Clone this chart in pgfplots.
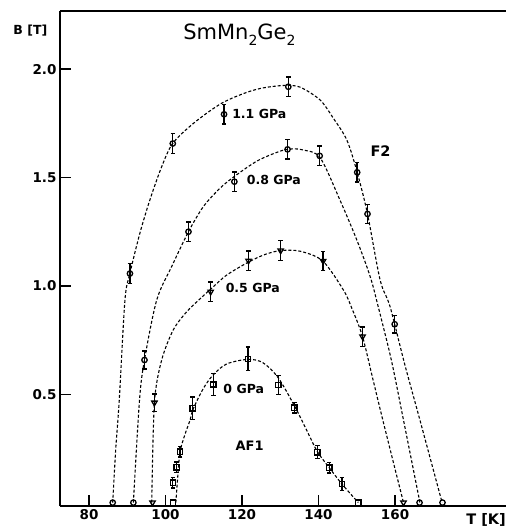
\documentclass[border=0pt]{standalone}
\usepackage{fontspec}
\setmainfont{DejaVu Sans}
\usepackage{pgfplots}
\usepackage{pgfplotstable}
\pgfplotsset{compat=1.18}

% markers with error bars: T, B, error
\pgfplotstableread{
x y e
101.9 0.092 0.025
102.9 0.163 0.025
103.8 0.235 0.025
107.1 0.435 0.052
112.5 0.545 0.052
121.6 0.663 0.055
129.5 0.543 0.045
133.7 0.438 0.025
139.7 0.232 0.030
142.8 0.161 0.025
146.1 0.086 0.030
}\mZero
\pgfplotstableread{
x y e
97.1 0.461 0.040
111.8 0.973 0.045
121.7 1.116 0.045
130.1 1.163 0.045
141.2 1.115 0.045
151.5 0.766 0.045
}\mFive
\pgfplotstableread{
x y e
94.5 0.658 0.042
106.0 1.250 0.045
118.0 1.481 0.045
131.9 1.630 0.045
140.3 1.600 0.045
}\mEight
\pgfplotstableread{
x y e
90.7 1.057 0.045
101.9 1.657 0.045
115.3 1.792 0.045
132.1 1.919 0.045
150.1 1.524 0.045
152.8 1.332 0.045
159.9 0.823 0.040
}\mEleven

\begin{document}
\begin{tikzpicture}
\begin{axis}[
  scale only axis, width=446pt, height=495pt,
  xmin=72.42, xmax=189.0, ymin=-0.0157, ymax=2.2686,
  axis x line*=box, axis y line*=left,
  axis line style={-, line width=1.4pt},
  xtick={80,100,...,160}, ytick={0.5,1.0,1.5,2.0},
  tick pos=left,
  tick align=inside, major tick length=11pt,
  tick style={line width=1.4pt, black},
  minor tick num=0,
  /pgf/number format/assume math mode=true,
  yticklabel style={/pgf/number format/.cd, fixed, fixed zerofill, precision=1},
  xticklabel style={/pgf/number format/.cd, fixed, precision=0},
  ticklabel style={font=\fontsize{13.5}{15}\selectfont\bfseries},
  clip=false,
  cline/.style={black, line width=1.1pt, dash pattern=on 3pt off 2pt, smooth, tension=0.5, mark=none},
  emk/.style={black, only marks, line width=1.3pt, mark size=2.7pt,
    mark options={solid, fill=white, line width=1.3pt},
    error bars/y dir=both, error bars/y explicit,
    error bars/error bar style={line width=1.4pt, solid},
    error bars/error mark options={rotate=90, mark size=2.2pt, line width=1.3pt}},
  zmk/.style={black, only marks, mark size=2.7pt, mark options={solid, fill=white, line width=1.3pt}},
]
\coordinate (axsw) at (rel axis cs:0,0);
\coordinate (axne) at (rel axis cs:1,1);

% dashed curves
\addplot[cline] coordinates {
(86.2,0) (87.0,0.25) (87.9,0.47) (89.4,0.935) (90.7,1.058) (93.3,1.243) (95.9,1.396)
(99.0,1.55) (101.9,1.658) (107.3,1.750) (114.2,1.838) (120,1.885) (125,1.912) (131,1.925)
(135.2,1.917) (140.4,1.858) (143.9,1.773) (147.4,1.673) (150.1,1.524) (152.8,1.332)
(156.1,1.027) (158.7,0.904) (162.5,0.64) (166.5,0.381) (172.3,0)};
\addplot[cline] coordinates {
(91.6,0) (93.2,0.473) (94.5,0.658) (97.7,0.935) (101.6,1.089) (106.0,1.25) (109.9,1.366)
(114.2,1.450) (118.0,1.505) (124,1.577) (130,1.622) (133,1.632) (136,1.627) (140.4,1.592)
(145.6,1.396) (150,1.212) (153.5,1.043) (155.6,0.904) (159,0.66) (162.2,0.381) (166.5,0)};
\addplot[cline] coordinates {
(96.4,0) (97.1,0.461) (99.0,0.658) (102.0,0.796) (105.5,0.88) (109.0,0.940) (111.8,0.985)
(116,1.05) (121.7,1.11) (126,1.145) (130.1,1.163) (135.2,1.16) (141.1,1.115)
(146.5,0.981) (148.7,0.897) (151.5,0.766) (154.2,0.57) (156.8,0.381) (162.2,0)};
\addplot[cline] coordinates {
(102.7,0) (103.2,0.12) (103.8,0.235) (105.0,0.31) (106.4,0.38) (107.3,0.435) (110,0.53)
(112.5,0.59) (116,0.64) (121.6,0.661) (125.5,0.645) (129.5,0.575) (133.9,0.44)
(137,0.33) (139.7,0.235) (142.8,0.161) (146.1,0.086) (150.4,0)};

% markers with error bars
\addplot[emk, mark=o] table[x=x, y=y, y error=e] {\mEleven};
\addplot[emk, mark=o] table[x=x, y=y, y error=e] {\mEight};
\addplot[emk, mark=triangle, mark options={rotate=180, solid, fill=white, line width=1.3pt}, mark size=3.1pt] table[x=x, y=y, y error=e] {\mFive};
\addplot[emk, mark=square, mark size=2.6pt] table[x=x, y=y, y error=e] {\mZero};

% markers on the T axis
\addplot[zmk, mark=o] coordinates {(86.2,0) (91.6,0) (166.4,0) (172.4,0)};
\addplot[zmk, mark=triangle, mark options={rotate=180, solid, fill=white, line width=1.3pt}, mark size=3.1pt] coordinates {(96.6,0) (162.2,0)};
\addplot[zmk, mark=square, mark size=2.6pt] coordinates {(101.9,0) (150.4,0)};

% texts
\node[anchor=base west, inner sep=0pt] at (axis cs:104.6,2.135) {\fontsize{21}{24}\selectfont SmMn\raisebox{-0.28em}{\fontsize{14}{14}\selectfont 2}Ge\raisebox{-0.28em}{\fontsize{14}{14}\selectfont 2}};
\node[anchor=base west, inner sep=0pt] at (axis cs:60.2,2.162) {\fontsize{12.5}{14}\selectfont\bfseries B [T]};
\node[anchor=west, inner sep=0pt] at (axis cs:117.4,1.795) {\fontsize{12.5}{14}\selectfont\bfseries 1.1 GPa};
\node[anchor=west, inner sep=0pt] at (axis cs:121.2,1.490) {\fontsize{12.5}{14}\selectfont\bfseries 0.8 GPa};
\node[anchor=west, inner sep=0pt] at (axis cs:115.7,0.989) {\fontsize{12.5}{14}\selectfont\bfseries 0.5 GPa};
\node[anchor=west, inner sep=0pt] at (axis cs:115.1,0.523) {\fontsize{12.5}{14}\selectfont\bfseries 0 GPa};
\node[inner sep=0pt] at (axis cs:122.0,0.263) {\fontsize{13}{15}\selectfont\bfseries AF1};
\node[inner sep=0pt] at (axis cs:156.2,1.624) {\fontsize{14.5}{16}\selectfont\bfseries F2};
\node[inner sep=0pt] at (axis cs:183.8,-0.08) {\fontsize{14.5}{16}\selectfont\bfseries T [K]};
\end{axis}
\pgfresetboundingbox
\path ([xshift=-60pt,yshift=-21pt]axsw) rectangle ([yshift=11pt]axne);
\end{tikzpicture}
\end{document}
